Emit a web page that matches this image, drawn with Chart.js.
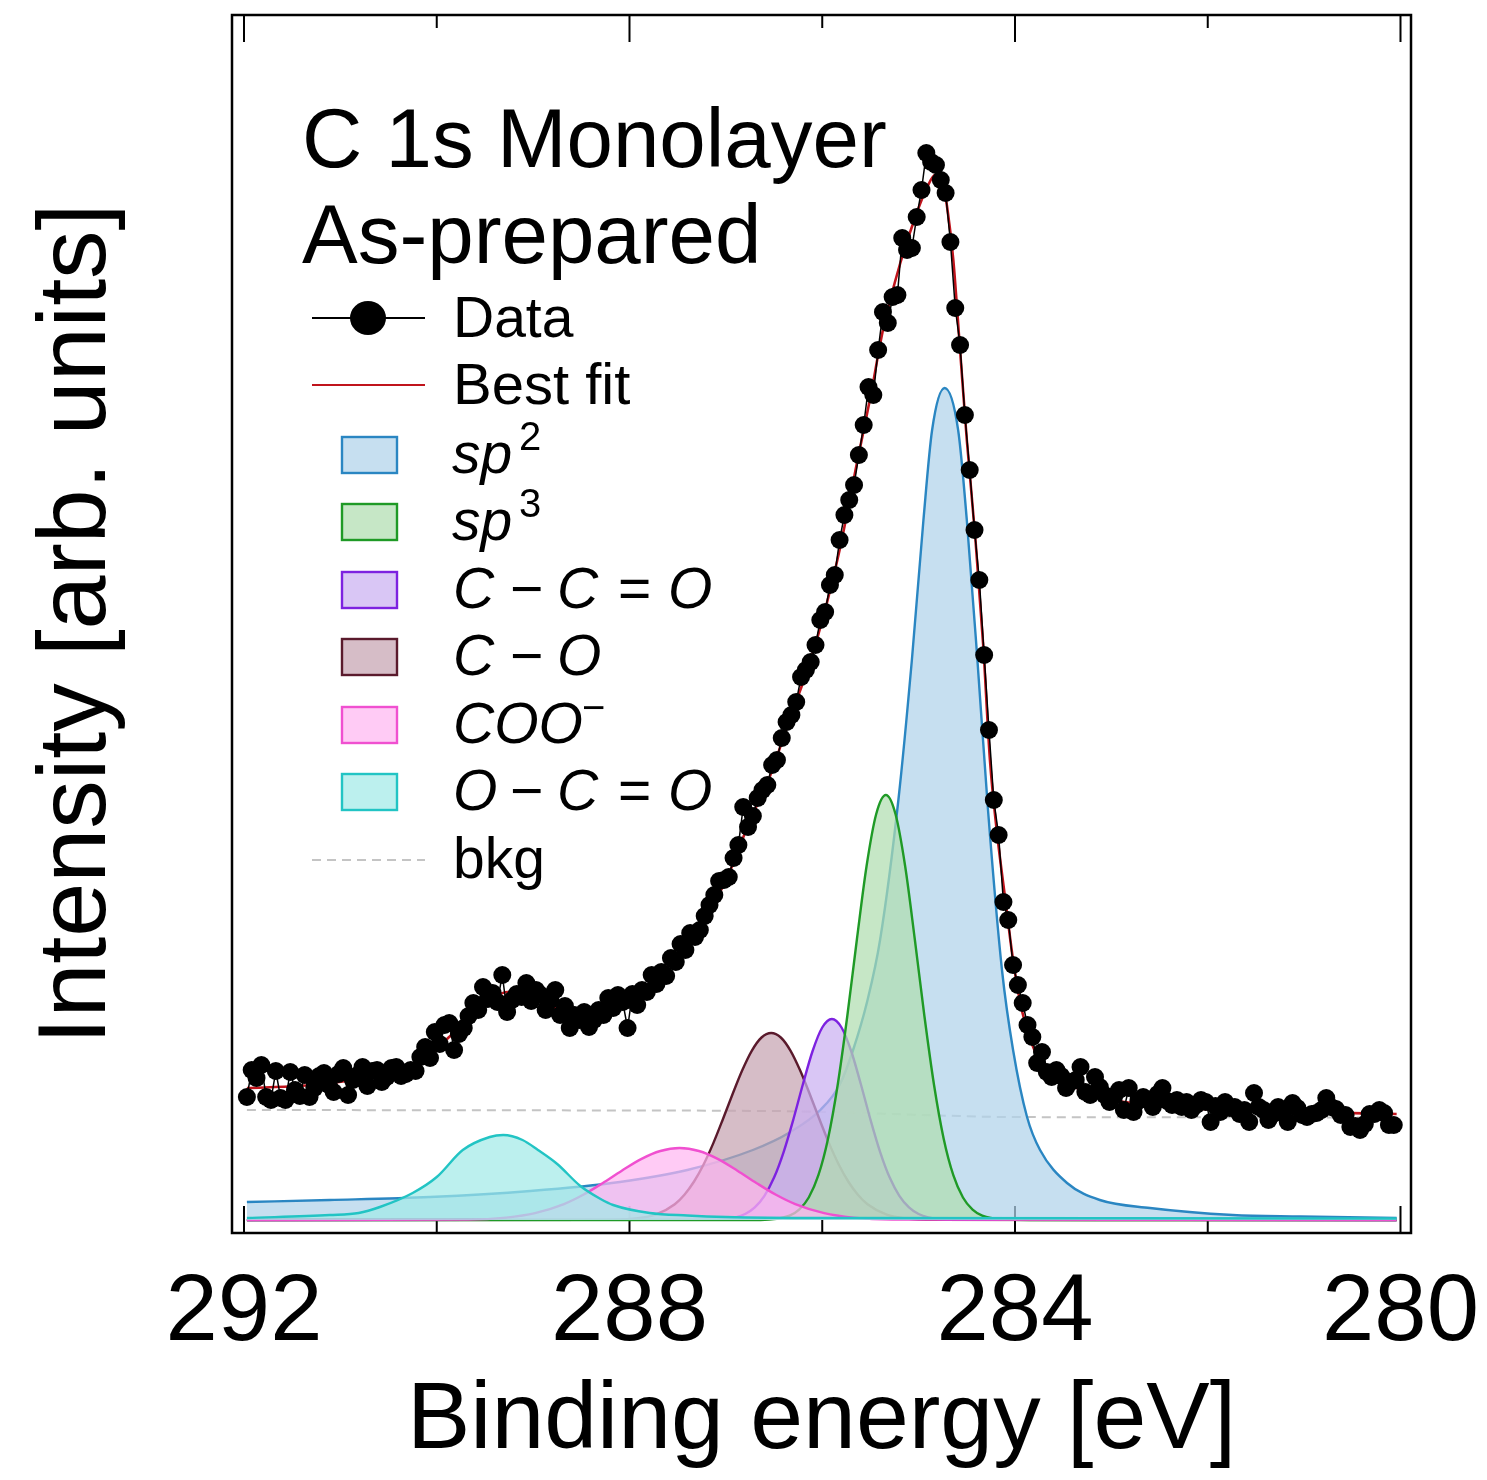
<!DOCTYPE html>
<html>
<head>
<meta charset="utf-8">
<script src="https://cdn.jsdelivr.net/npm/chart.js@4/dist/chart.umd.min.js"></script>
<style>
html,body{margin:0;padding:0;background:#fff;}
#wrap{width:1487px;height:1480px;position:relative;}
canvas{display:block;}
</style>
</head>
<body>
<div id="wrap"><canvas id="c" width="1487" height="1480" style="width:1487px;height:1480px"></canvas></div>
<script>
// ---------- axis ticks ----------
const tickValues = [280, 282, 284, 286, 288, 290, 292];
const tickLabels = [280, 284, 288, 292];

// ---------- measured data (binding energy, intensity) ----------
const dataBE = [
291.97,291.92,291.87,291.82,291.77,291.72,291.67,291.62,291.57,291.52,
291.47,291.42,291.37,291.32,291.27,291.22,291.17,291.12,291.07,291.02,
290.97,290.92,290.87,290.82,290.77,290.72,290.67,290.62,290.57,290.52,
290.47,290.42,290.37,290.32,290.27,290.22,290.17,290.12,290.07,290.02,
289.97,289.92,289.87,289.82,289.77,289.72,289.67,289.62,289.57,289.52,
289.47,289.42,289.37,289.32,289.27,289.22,289.17,289.12,289.07,289.02,
288.97,288.92,288.87,288.82,288.77,288.72,288.67,288.62,288.57,288.52,
288.47,288.42,288.37,288.32,288.27,288.22,288.17,288.12,288.07,288.02,
287.97,287.92,287.87,287.82,287.77,287.72,287.67,287.62,287.57,287.52,
287.47,287.42,287.37,287.32,287.27,287.22,287.17,287.12,287.07,287.02,
286.97,286.92,286.87,286.82,286.77,286.72,286.67,286.62,286.57,286.52,
286.47,286.42,286.37,286.32,286.27,286.22,286.17,286.12,286.07,286.02,
285.97,285.92,285.87,285.82,285.77,285.72,285.67,285.62,285.57,285.52,
285.47,285.42,285.37,285.32,285.27,285.22,285.17,285.12,285.07,285.02,
284.97,284.92,284.87,284.82,284.77,284.72,284.67,284.62,284.57,284.52,
284.47,284.42,284.37,284.32,284.27,284.22,284.17,284.12,284.07,284.02,
283.97,283.92,283.87,283.82,283.77,283.72,283.67,283.62,283.57,283.52,
283.47,283.42,283.37,283.32,283.27,283.22,283.17,283.12,283.07,283.02,
282.97,282.92,282.87,282.82,282.77,282.72,282.67,282.62,282.57,282.52,
282.47,282.42,282.37,282.32,282.27,282.22,282.17,282.12,282.07,282.02,
281.97,281.92,281.87,281.82,281.77,281.72,281.67,281.62,281.57,281.52,
281.47,281.42,281.37,281.32,281.27,281.22,281.17,281.12,281.07,281.02,
280.97,280.92,280.87,280.82,280.77,280.72,280.67,280.62,280.57,280.52,
280.47,280.42,280.37,280.32,280.27,280.22,280.17,280.12,280.07
];
const dataI = [
12.3,15.0,14.2,15.5,12.3,12.0,14.9,12.2,12.0,14.8,
13.0,12.4,14.5,12.3,13.2,14.4,14.7,13.5,12.8,14.6,
15.2,12.5,14.0,14.5,15.3,13.4,14.9,15.0,13.8,14.3,
15.2,15.3,14.4,14.6,15.0,14.9,16.3,17.3,16.2,18.8,
17.6,19.5,19.7,17.0,18.6,19.2,20.4,21.7,21.0,23.3,
22.1,22.7,21.8,24.5,20.8,22.0,22.6,22.3,23.7,21.9,
23.0,22.5,21.0,22.0,23.0,20.5,21.4,19.2,20.5,20.0,
20.8,19.3,20.0,21.0,20.5,22.2,21.2,22.5,21.8,19.2,
22.6,21.5,23.0,22.8,24.5,23.6,24.8,24.4,26.2,25.8,
27.6,27.0,28.7,28.3,29.0,30.4,31.5,32.5,33.9,34.0,
34.3,36.2,37.5,41.3,39.3,40.4,42.2,43.0,43.5,45.5,
46.0,48.2,49.8,50.5,51.8,54.3,55.0,55.8,57.5,60.0,
60.8,63.5,64.5,68.0,70.5,72.0,73.5,76.5,79.5,83.3,
82.5,87.0,90.8,89.7,92.3,92.5,98.2,97.0,97.2,100.3,
103.0,106.7,105.8,105.5,104.0,102.7,97.8,91.2,87.5,80.5,
75.0,69.0,64.0,56.5,49.0,42.0,38.5,31.8,30.0,25.5,
23.5,21.7,19.5,18.3,15.7,16.8,14.8,14.3,15.0,14.4,
13.2,13.8,14.0,15.3,12.8,12.5,14.3,13.3,12.5,11.8,
12.4,13.0,11.0,13.2,10.8,11.9,12.3,12.0,11.3,12.6,
13.2,11.9,11.5,12.0,11.3,11.8,11.0,11.5,12.0,11.8,
9.8,11.4,10.8,11.8,11.2,11.3,10.6,11.0,9.8,12.7,
11.3,11.0,10.0,10.6,11.3,10.8,9.8,11.7,11.2,10.5,
10.3,10.6,10.7,11.0,12.2,11.3,11.1,10.5,10.5,9.3,
9.4,9.0,9.6,10.6,10.6,11.0,10.7,9.5,9.5
];

// ---------- best fit ----------
const fitBE = [291.97,291.43,291.09,290.74,290.46,290.26,290.05,289.86,289.62,289.45,
289.27,289.03,288.75,288.44,288.17,287.89,287.68,287.55,287.20,286.93,
286.75,286.57,286.33,286.13,285.99,285.82,285.64,285.50,285.37,285.19,
285.02,284.91,284.83,284.75,284.70,284.64,284.57,284.50,284.41,284.33,
284.26,284.19,284.10,284.02,283.93,283.82,283.71,283.46,283.12,282.78,
282.08,281.04,280.04];
const fitI = [13.2,13.4,13.7,14.2,14.8,15.5,16.7,18.4,20.7,22.0,
22.8,22.3,21.1,20.2,21.0,22.7,24.3,26.0,30.3,35.5,
40.0,43.7,50.3,55.7,60.3,67.0,75.7,82.3,89.0,95.7,
100.7,103.3,104.5,103.7,101.0,96.0,87.0,78.0,68.0,57.5,
46.0,39.0,32.0,26.0,21.0,17.5,15.5,13.7,12.3,11.7,
11.1,10.8,10.6];

// ---------- components ----------
const sp2BE = [291.97,291.11,290.07,289.03,288.10,287.40,286.72,286.33,286.02,285.82,285.68,285.53,285.40,285.21,285.07,284.95,284.86,284.73,284.59,284.50,284.39,284.28,284.135,284.02,283.875,283.74,283.46,283.12,282.60,281.74,281.04,280.04];
const sp2I  = [1.8,2.0,2.3,2.9,3.8,5.0,7.0,8.8,11.0,13.5,17.0,22.0,28.0,42.0,56.0,70.0,79.0,83.2,79.0,70.0,56.0,41.0,25.0,17.0,10.3,7.0,3.7,2.0,1.2,0.5,0.35,0.2];

const sp3BE = [291.97,286.64,286.34,286.24,286.14,286.04,285.94,285.84,285.74,285.64,285.54,285.44,285.34,285.24,285.14,285.04,284.94,284.84,284.74,284.64,284.54,284.44,284.34,284.14,283.84,280.04];
const sp3I  = [0,0,0.43,1.03,2.25,4.48,8.13,13.5,20.4,28.1,35.4,40.6,42.5,40.6,35.4,28.1,20.4,13.5,8.13,4.48,2.25,1.03,0.43,0.06,0,0];

const ccoBE = [291.97,287.10,286.90,286.80,286.70,286.60,286.50,286.40,286.30,286.20,286.10,286.00,285.90,285.80,285.70,285.60,285.50,285.40,285.30,285.20,285.10,285.00,284.90,284.70,280.04];
const ccoI  = [0,0.04,0.27,0.60,1.26,2.42,4.24,6.82,10.05,13.6,16.9,19.25,20.1,19.25,16.9,13.6,10.05,6.82,4.24,2.42,1.26,0.60,0.27,0.04,0];

const coBE = [291.97,288.23,287.93,287.73,287.53,287.43,287.33,287.23,287.13,287.03,286.93,286.83,286.73,286.63,286.53,286.43,286.33,286.23,286.13,286.03,285.93,285.83,285.73,285.63,285.53,285.33,285.13,284.83,280.04];
const coI  = [0,0.015,0.15,0.53,1.58,2.53,3.85,5.58,7.69,10.1,12.6,14.97,16.94,18.25,18.7,18.25,16.94,14.97,12.6,10.1,7.69,5.58,3.85,2.53,1.58,0.53,0.15,0.015,0];

const cooBE = [291.97,289.68,289.28,288.98,288.68,288.48,288.28,288.08,287.88,287.68,287.48,287.28,287.08,286.88,286.68,286.48,286.28,285.98,285.68,285.28,280.04];
const cooI  = [0,0.04,0.24,0.68,1.59,2.52,3.68,4.93,6.09,6.9,7.2,6.9,6.09,4.93,3.68,2.52,1.59,0.68,0.24,0.04,0];

const ocoBE = [291.97,291.11,290.81,290.59,290.25,290.00,289.73,289.45,289.31,289.11,288.95,288.75,288.51,288.30,288.17,287.79,287.40,287.00,286.00,280.04];
const ocoI  = [0.2,0.5,0.7,1.3,2.7,4.3,7.0,8.3,8.5,8.0,7.0,5.6,3.4,2.1,1.5,0.7,0.45,0.3,0.2,0.15];

const bkgBE = [291.97,287.5,286.5,285.9,285.3,284.8,284.2,283.5,280.04];
const bkgI  = [11.0,10.95,10.9,10.8,10.6,10.45,10.3,10.28,10.25];

// ---------- helpers ----------
const pts = (xs, ys) => xs.map((x, i) => ({x: x, y: ys[i]}));
const FONT = '"Liberation Sans", Arial, Helvetica, sans-serif';

const comp = (label, xs, ys, edge, fillC, order) => ({
  label, data: pts(xs, ys), borderColor: edge, backgroundColor: fillC,
  borderWidth: 2.4, pointRadius: 0, fill: 'origin',
  cubicInterpolationMode: 'monotone', order
});

// edge colour, fill colour (pastel with alpha so overlaps stay light)
const COLORS = {
  sp2: ['#2a86c2', 'rgba(176,211,234,0.72)'],
  sp3: ['#1f9a26', 'rgba(176,222,176,0.72)'],
  cco: ['#7d22e0', 'rgba(202,176,241,0.72)'],
  co:  ['#5a1a2c', 'rgba(198,164,178,0.72)'],
  coo: ['#f050d0', 'rgba(255,183,241,0.72)'],
  oco: ['#22c4c4', 'rgba(162,234,231,0.72)'],
};

// ---------- decorations: frame, inward ticks, title, legend ----------
const decor = {
  id: 'decor',
  beforeDatasetsDraw(chart) {
    const {ctx, chartArea: a, scales: {x}} = chart;
    ctx.save();
    ctx.strokeStyle = '#000';
    ctx.lineWidth = 2;
    tickValues.forEach(v => {
      const px = x.getPixelForValue(v);
      const len = tickLabels.includes(v) ? 27 : 13;
      ctx.beginPath();
      ctx.moveTo(px, a.bottom); ctx.lineTo(px, a.bottom - len);
      ctx.moveTo(px, a.top); ctx.lineTo(px, a.top + len);
      ctx.stroke();
    });
    ctx.restore();
  },
  afterDraw(chart) {
    const {ctx, chartArea: a} = chart;
    ctx.save();
    // frame
    ctx.strokeStyle = '#000';
    ctx.lineWidth = 2.5;
    ctx.strokeRect(a.left, a.top, a.right - a.left, a.bottom - a.top);

    // title text
    ctx.fillStyle = '#000';
    ctx.textAlign = 'left';
    ctx.textBaseline = 'alphabetic';
    ctx.font = '83.5px ' + FONT;
    ctx.fillText('C 1s Monolayer', 302, 167);
    ctx.fillText('As-prepared', 302, 263);

    // legend
    const rowY = [318, 385, 455, 522, 590, 657, 725, 792, 860];
    const tx = 453;
    const LF = 57;
    const norm = LF + 'px ' + FONT;
    const ital = 'italic ' + LF + 'px ' + FONT;
    const sup = '40px ' + FONT;

    // Data
    ctx.strokeStyle = '#000'; ctx.lineWidth = 2;
    ctx.beginPath(); ctx.moveTo(312, rowY[0]); ctx.lineTo(425, rowY[0]); ctx.stroke();
    ctx.beginPath(); ctx.ellipse(368, rowY[0], 18, 17, 0, 0, Math.PI * 2); ctx.fillStyle = '#000'; ctx.fill();
    ctx.font = norm; ctx.fillText('Data', tx, rowY[0] + 19);
    // Best fit
    ctx.strokeStyle = '#c0141c'; ctx.lineWidth = 2.2;
    ctx.beginPath(); ctx.moveTo(312, rowY[1]); ctx.lineTo(425, rowY[1]); ctx.stroke();
    ctx.fillStyle = '#000'; ctx.font = '58px ' + FONT; ctx.fillText('Best fit', tx, rowY[1] + 19);

    // patches
    const patches = [COLORS.sp2, COLORS.sp3, COLORS.cco, COLORS.co, COLORS.coo, COLORS.oco];
    patches.forEach((c, k) => {
      const cy = rowY[k + 2];
      ctx.fillStyle = '#fff';
      ctx.fillRect(342, cy - 18, 55, 36);
      ctx.fillStyle = c[1];
      ctx.fillRect(342, cy - 18, 55, 36);
      ctx.strokeStyle = c[0]; ctx.lineWidth = 2.4;
      ctx.strokeRect(342, cy - 18, 55, 36);
    });

    const seg = (parts, cy) => {
      parts.forEach(p => {
        ctx.font = p[2] === 'i' ? ital : (p[2] === 's' ? sup : norm);
        ctx.fillStyle = '#000';
        ctx.fillText(p[0], p[1], cy + (p[3] || 18));
      });
    };
    seg([['sp', 452, 'i'], ['2', 519, 's', -5]], rowY[2]);
    seg([['sp', 452, 'i'], ['3', 519, 's', -5]], rowY[3]);
    seg([['C', 453, 'i'], ['\u2212', 510, 'n'], ['C', 557, 'i'], ['=', 618, 'n'], ['O', 668, 'i']], rowY[4]);
    seg([['C', 453, 'i'], ['\u2212', 510, 'n'], ['O', 557, 'i']], rowY[5]);
    seg([['COO', 453, 'i'], ['\u2212', 582, 's', -4]], rowY[6]);
    seg([['O', 453, 'i'], ['\u2212', 510, 'n'], ['C', 557, 'i'], ['=', 618, 'n'], ['O', 668, 'i']], rowY[7]);

    // bkg
    ctx.strokeStyle = '#c4c4c4'; ctx.lineWidth = 2; ctx.setLineDash([9, 6]);
    ctx.beginPath(); ctx.moveTo(312, rowY[8]); ctx.lineTo(425, rowY[8]); ctx.stroke();
    ctx.setLineDash([]);
    ctx.font = norm; ctx.fillStyle = '#000'; ctx.fillText('bkg', tx, rowY[8] + 18);
    ctx.restore();
  }
};

new Chart(document.getElementById('c'), {
  type: 'line',
  data: {
    datasets: [
      {label: 'Data', data: pts(dataBE, dataI), borderColor: '#000', borderWidth: 1.5,
       pointRadius: 9, pointBackgroundColor: '#000', pointBorderWidth: 0, fill: false, tension: 0, order: 0},
      {label: 'Best fit', data: pts(fitBE, fitI), borderColor: '#c0141c', borderWidth: 2.6,
       pointRadius: 0, fill: false, cubicInterpolationMode: 'monotone', order: 1},
      comp('O-C=O', ocoBE, ocoI, COLORS.oco[0], COLORS.oco[1], 3),
      comp('COO-', cooBE, cooI, COLORS.coo[0], COLORS.coo[1], 4),
      comp('sp3', sp3BE, sp3I, COLORS.sp3[0], COLORS.sp3[1], 5),
      comp('C-C=O', ccoBE, ccoI, COLORS.cco[0], COLORS.cco[1], 6),
      comp('C-O', coBE, coI, COLORS.co[0], COLORS.co[1], 7),
      comp('sp2', sp2BE, sp2I, COLORS.sp2[0], COLORS.sp2[1], 8),
      {label: 'bkg', data: pts(bkgBE, bkgI), borderColor: '#c4c4c4', borderWidth: 2, borderDash: [9, 6],
       pointRadius: 0, fill: false, order: 9}
    ]
  },
  options: {
    responsive: false,
    devicePixelRatio: 1,
    animation: false,
    events: [],
    layout: {padding: {left: 0, top: 15, right: 76, bottom: 0}},
    plugins: {legend: {display: false}, tooltip: {enabled: false}, title: {display: false}},
    scales: {
      x: {
        type: 'linear', reverse: true, min: 279.891, max: 292.1245,
        grid: {display: false}, border: {display: false},
        afterBuildTicks: s => { s.ticks = tickValues.map(v => ({value: v})); },
        afterFit: s => { s.height = 247; },
        ticks: {
          autoSkip: false, maxRotation: 0, minRotation: 0, padding: 17, color: '#000',
          font: {family: FONT, size: 94},
          callback: v => tickLabels.includes(v) ? String(v) : ''
        },
        title: {display: true, text: 'Binding energy [eV]', color: '#000',
                font: {family: FONT, size: 95}, padding: {top: 0, bottom: 1}}
      },
      y: {
        min: -1.3, max: 120.5,
        grid: {display: false}, border: {display: false},
        ticks: {display: false},
        afterFit: s => { s.width = 232; },
        title: {display: true, text: 'Intensity [arb. units]', color: '#000',
                font: {family: FONT, size: 97}, padding: {top: 20, bottom: 0}}
      }
    }
  },
  plugins: [decor]
});
</script>
</body>
</html>
